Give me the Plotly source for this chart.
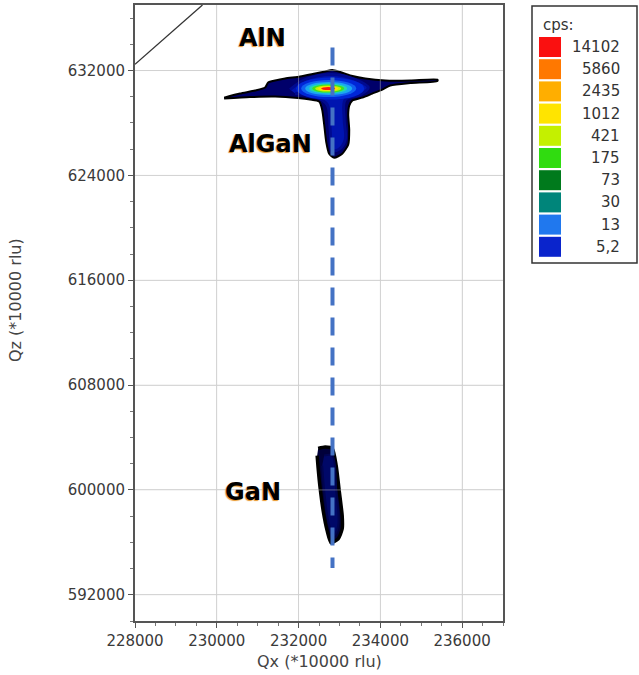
import plotly.graph_objects as go

# ---------------- data ----------------
qx_range = [228000, 237000]
qz_range = [590000, 637000]
qx_ticks = [228000, 230000, 232000, 234000, 236000]
qz_ticks = [592000, 600000, 608000, 616000, 624000, 632000]

# AlN / AlGaN reciprocal-space map: outer contour (lowest level)
aln_outline_qx = [230179, 230570, 230938, 231182, 231256, 231427, 231672, 232039,
                  232406, 232651, 232823, 233018, 233263, 233630, 234120, 234732,
                  235393, 235393, 234732, 234242, 234047, 233802, 233557, 233312,
                  233239, 233214, 233239, 233214, 233067, 232872, 232749, 232676,
                  232627, 232578, 232504, 232284, 231990, 231427, 230815, 230179]
aln_outline_qz = [629935, 630240, 630470, 630700, 631082, 631235, 631388, 631541,
                  631771, 631924, 632038, 631885, 631618, 631388, 631235, 631235,
                  631312, 631197, 631044, 630853, 630547, 630240, 629935, 629705,
                  629322, 628634, 627487, 626339, 625650, 625345, 625650, 626569,
                  627869, 629016, 629629, 629782, 629896, 630011, 629973, 629858]

# second level (AlN peak body + AlGaN tail)
aln_core_qx = [231794, 232162, 232823, 233386, 233704, 233508, 233141, 233116,
               233141, 232969, 232823, 232774, 232700, 232406, 231917]
aln_core_qz = [630547, 631312, 631694, 631312, 630700, 630164, 629782, 628252,
               626722, 625957, 625957, 627487, 629399, 630011, 630240]

# AlN peak iso-intensity levels (bounding boxes of each level, outer -> inner)
peak_qx0 = [231941, 232064, 232162, 232260, 232333, 232406, 232480, 232553]
peak_qx1 = [233606, 233410, 233312, 233190, 233116, 233043, 232969, 232896]
peak_qz0 = [629781, 629973, 630126, 630241, 630317, 630394, 630447, 630508]
peak_qz1 = [631465, 631273, 631120, 631006, 630929, 630853, 630799, 630738]
peak_colors = ["#0026d6", "#1060f0", "#1aa8f0", "#22d8b0", "#40e020",
               "#c8f000", "#ffe000", "#ff1a0a"]

# GaN peak
gan_outline_qx = [232480, 232651, 232823, 232920, 232994, 233067, 233067, 232969,
                  232798, 232700, 232602, 232529, 232480, 232455]
gan_outline_qz = [603160, 603274, 603160, 601859, 599947, 598034, 597040, 596275,
                  595969, 596882, 598416, 600099, 601629, 602624]
gan_core_qx = [232627, 232823, 232920, 232969, 232847, 232725, 232627, 232578]
gan_core_qz = [602624, 602624, 599947, 597269, 596504, 597652, 599947, 601859]

# relaxation (vertical) reference line and limit line
ref_line_qx = 232830
ref_line_qz = [594050, 633760]
limit_line_qx = [228000, 229650]
limit_line_qz = [632480, 637000]

# layer labels
layer_names = ["AlN", "AlGaN", "GaN"]
layer_qx = [231121, 231317, 230876]
layer_qz = [634448, 626415, 599832]

# intensity legend
legend_title = "cps:"
legend_levels = ["14102", "5860", "2435", "1012", "421", "175", "73", "30", "13", "5,2"]
legend_colors = ["#fa1010", "#ff7800", "#ffae00", "#ffe400", "#c4f000",
                 "#30dc10", "#007a1c", "#00857a", "#2078ee", "#0a24cc"]

# ---------------- figure ----------------
W, H = 639, 675
L, R, T, B = 135, 136, 5, 54
PW, PH = W - L - R, H - T - B


def px(xp):
    return (xp - L) / PW


def py(yp):
    return (H - B - yp) / PH


fig = go.Figure()

fig.add_trace(go.Scatter(x=aln_outline_qx, y=aln_outline_qz, mode="lines",
                         fill="toself", fillcolor="#00006a",
                         line=dict(color="#000000", width=2, shape="spline", smoothing=0.6),
                         hoverinfo="skip", showlegend=False))
fig.add_trace(go.Scatter(x=aln_core_qx, y=aln_core_qz, mode="lines",
                         fill="toself", fillcolor="#0014b0",
                         line=dict(color="#000a90", width=3, shape="spline", smoothing=1),
                         hoverinfo="skip", showlegend=False))
fig.add_trace(go.Scatter(x=gan_outline_qx, y=gan_outline_qz, mode="lines",
                         fill="toself", fillcolor="#00003a",
                         line=dict(color="#000000", width=3.5, shape="spline", smoothing=0.6),
                         hoverinfo="skip", showlegend=False))
fig.add_trace(go.Scatter(x=gan_core_qx, y=gan_core_qz, mode="lines",
                         fill="toself", fillcolor="#000868",
                         line=dict(color="#000450", width=2, shape="spline", smoothing=1),
                         hoverinfo="skip", showlegend=False))
fig.add_trace(go.Scatter(x=limit_line_qx, y=limit_line_qz, mode="lines",
                         line=dict(color="#333333", width=1.3),
                         hoverinfo="skip", showlegend=False))

# peak levels
for x0, x1, y0, y1, c in zip(peak_qx0, peak_qx1, peak_qz0, peak_qz1, peak_colors):
    fig.add_shape(type="circle", xref="x", yref="y", x0=x0, x1=x1, y0=y0, y1=y1,
                  fillcolor=c, line=dict(width=0), layer="above")

# grid overlay (grid is visible through the map in the reference)
for v in qx_ticks[1:]:
    fig.add_shape(type="line", xref="x", yref="y", x0=v, x1=v,
                  y0=qz_range[0], y1=qz_range[1],
                  line=dict(color="rgba(200,200,200,0.45)", width=1), layer="above")
for v in qz_ticks:
    fig.add_shape(type="line", xref="x", yref="y", x0=qx_range[0], x1=qx_range[1],
                  y0=v, y1=v,
                  line=dict(color="rgba(200,200,200,0.45)", width=1), layer="above")

# dashed reference line
fig.add_shape(type="line", xref="x", yref="y", x0=ref_line_qx, x1=ref_line_qx,
              y0=ref_line_qz[1], y1=ref_line_qz[0],
              line=dict(color="#4472c4", width=4, dash="18px,12px"), layer="above")

# layer labels
for name, xq, yq in zip(layer_names, layer_qx, layer_qz):
    fig.add_annotation(x=xq, y=yq, xref="x", yref="y", text=name, showarrow=False,
                       xanchor="center", yanchor="middle",
                       font=dict(family="DejaVu Sans", size=24, color="#000000",
                                 weight="bold", shadow="-1px 1px 1px #e8962a"))

# axis titles
fig.add_annotation(x=0.5, y=py(661), xref="paper", yref="paper",
                   text="Qx (*10000 rlu)", showarrow=False,
                   xanchor="center", yanchor="middle",
                   font=dict(family="DejaVu Sans", size=16, color="#444444"))
fig.add_annotation(x=px(15), y=py(300), xref="paper", yref="paper",
                   text="Qz (*10000 rlu)", showarrow=False, textangle=-90,
                   xanchor="center", yanchor="middle",
                   font=dict(family="DejaVu Sans", size=16, color="#444444"))

# intensity legend box
fig.add_shape(type="rect", xref="paper", yref="paper",
              x0=px(532), x1=px(637), y0=py(263), y1=py(6),
              line=dict(color="#333333", width=1.5), fillcolor="white", layer="above")
fig.add_annotation(x=px(541), y=py(25), xref="paper", yref="paper",
                   text=legend_title, showarrow=False, xanchor="left", yanchor="middle",
                   font=dict(family="DejaVu Sans", size=15, color="#333333"))
for i, (lab, col) in enumerate(zip(legend_levels, legend_colors)):
    cy = 47 + 22.2 * i
    fig.add_shape(type="rect", xref="paper", yref="paper",
                  x0=px(539), x1=px(561), y0=py(cy + 10), y1=py(cy - 10),
                  fillcolor=col, line=dict(width=0), layer="above")
    fig.add_annotation(x=px(622), y=py(cy), xref="paper", yref="paper",
                       text=lab, showarrow=False, xanchor="right", yanchor="middle",
                       font=dict(family="DejaVu Sans", size=15, color="#333333"))

axis_common = dict(
    showgrid=True, gridcolor="#dcdcdc", gridwidth=1,
    showline=True, linecolor="#555555", linewidth=2, mirror=True,
    ticks="outside", ticklen=5, tickcolor="#555555", tickwidth=1,
    tickfont=dict(family="DejaVu Sans", size=15, color="#3a3a3a"),
    zeroline=False, tickformat="d",
)

fig.update_xaxes(range=qx_range, tickvals=qx_ticks,
                 minor=dict(dtick=500, tick0=228000, ticks="outside", ticklen=3,
                            tickcolor="#777777", showgrid=False),
                 **axis_common)
fig.update_yaxes(range=qz_range, tickvals=qz_ticks,
                 minor=dict(dtick=2000, tick0=592000, ticks="outside", ticklen=3,
                            tickcolor="#777777", showgrid=False),
                 **axis_common)

fig.update_layout(
    width=W, height=H,
    margin=dict(l=L, r=R, t=T, b=B, autoexpand=False),
    paper_bgcolor="white", plot_bgcolor="white",
    showlegend=False,
)

fig.write_html("out.html", config={"displayModeBar": False},
               post_script="document.body.style.margin='0';"
                           "document.body.style.overflow='hidden';")
